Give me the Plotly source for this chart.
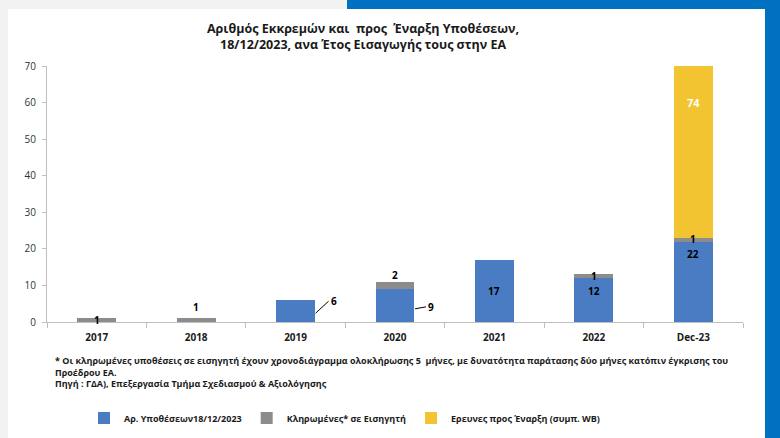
import plotly.graph_objects as go

years = ["2017", "2018", "2019", "2020", "2021", "2022", "Dec-23"]
pending = [0, 0, 6, 9, 17, 12, 22]
assigned = [1, 1, 0, 2, 0, 1, 1]
to_start = [0, 0, 0, 0, 0, 0, 74]

names = ["Αρ. Υποθέσεων18/12/2023", "Κληρωμένες* σε Εισηγητή", "Ερευνες προς Έναρξη (συμπ. WB)"]
colors = ["#4a7cc4", "#8c8c8c", "#f2c431"]

title = "<b>Αριθμός Εκκρεμών και  προς  Έναρξη Υποθέσεων,<br>18/12/2023, ανα Έτος Εισαγωγής τους στην ΕΑ</b>"
footnote = ("<b>* Οι κληρωμένες υποθέσεις σε εισηγητή έχουν χρονοδιάγραμμα ολοκλήρωσης 5  μήνες, "
            "με δυνατότητα παράτασης δύο μήνες κατόπιν έγκρισης του<br>Προέδρου ΕΑ.<br>"
            "Πηγή : ΓΔΑ), Επεξεργασία Τμήμα Σχεδιασμού & Αξιολόγησης</b>")

FONT = "Open Sans"

# plot area in pixels
L, R, T, B = 47, 37, 66, 116
W, H = 780, 438
pw, ph = W - L - R, H - T - B


def px(x):
    return (x - L) / pw


def py(y):
    return (H - B - y) / ph


fig = go.Figure()
for vals, name, col in zip([pending, assigned, to_start], names, colors):
    fig.add_trace(go.Bar(x=years, y=vals, name=name, marker=dict(color=col, line=dict(width=0))))

ann = []
lbl = dict(size=10, color="black", family=FONT)

# blue labels (x given as category index)
leader = {"2019": (13, -12), "2020": (11, -2)}
for i, (yr, v, a) in enumerate(zip(years, pending, assigned)):
    if v == 0:
        continue
    if yr in leader:
        ax, ay = leader[yr]
        ann.append(dict(x=i, y=v * 0.4, xshift=20, text="<b>%d</b>" % v, showarrow=True,
                        arrowhead=0, arrowwidth=1, arrowcolor="black", ax=ax, ay=ay,
                        font=lbl, xanchor="left", standoff=0))
    elif a > 0:
        ann.append(dict(x=i, y=v - 3.4, text="<b>%d</b>" % v, showarrow=False, font=lbl))
    else:
        ann.append(dict(x=i, y=v / 2, text="<b>%d</b>" % v, showarrow=False, font=lbl))

# gray labels
above = {"2018": 3.0, "2020": 1.8}
for i, (yr, v, a) in enumerate(zip(years, pending, assigned)):
    if a == 0:
        continue
    if yr in above:
        y = v + a + above[yr]
    else:
        y = v + a / 2 + 0.1
    ann.append(dict(x=i, y=y, text="<b>%d</b>" % a, showarrow=False, font=lbl))

# yellow labels
for i, (v, a, s) in enumerate(zip(pending, assigned, to_start)):
    if s == 0:
        continue
    ann.append(dict(x=i, y=v + a + s / 2, text="<b>%d</b>" % s, showarrow=False,
                    font=dict(size=11, color="white", family=FONT)))

ann.append(dict(xref="paper", yref="paper", x=px(363), y=py(36), yanchor="middle",
                text=title, showarrow=False, align="center",
                font=dict(size=12.5, color="#1a1a1a", family=FONT)))
ann.append(dict(xref="paper", yref="paper", x=px(53), y=py(352), xanchor="left", yanchor="top",
                text=footnote, showarrow=False, align="left",
                font=dict(size=9, color="#1a1a1a", family=FONT)))

shapes = [
    dict(type="rect", xref="paper", yref="paper", x0=px(8), x1=px(765), y0=py(438), y1=py(9),
         fillcolor="white", line=dict(width=0), layer="below"),
    dict(type="rect", xref="paper", yref="paper", x0=px(347), x1=px(780), y0=py(9), y1=py(0),
         fillcolor="#0070c0", line=dict(width=0), layer="below"),
    dict(type="rect", xref="paper", yref="paper", x0=px(765), x1=px(780), y0=py(438), y1=py(0),
         fillcolor="#0070c0", line=dict(width=0), layer="below"),
]

fig.update_layout(
    width=W, height=H,
    margin=dict(l=L, r=R, t=T, b=B, autoexpand=False),
    barmode="stack", bargap=0.61,
    paper_bgcolor="#f2f2f2", plot_bgcolor="rgba(0,0,0,0)",
    font=dict(family=FONT, color="#1a1a1a"),
    showlegend=True,
    legend=dict(orientation="h", xref="container", yref="container",
                x=84 / W, y=1 - 418 / H, xanchor="left", yanchor="middle",
                traceorder="normal",
                font=dict(size=9, color="#1a1a1a", family=FONT, weight="bold"),
                bgcolor="rgba(0,0,0,0)", itemwidth=30),
    annotations=ann, shapes=shapes,
)
fig.update_xaxes(type="category", showline=True, linecolor="#bfbfbf", linewidth=1,
                 ticks="outside", tickson="boundaries", ticklen=5, tickcolor="#bfbfbf",
                 tickfont=dict(size=10, color="#1a1a1a", family=FONT, weight="bold"),
                 ticklabelstandoff=6,
                 showgrid=False, range=[-0.5, len(years) - 0.5])
fig.update_yaxes(range=[0, 70], dtick=10, showline=True, linecolor="#bfbfbf", linewidth=1,
                 ticks="outside", ticklen=4, tickcolor="#bfbfbf", showgrid=False, zeroline=False,
                 ticklabelstandoff=4,
                 tickfont=dict(size=10, color="#333333", family=FONT))

fig.write_html("out.html", config={"displayModeBar": False},
               post_script="document.body.style.margin='0';")
